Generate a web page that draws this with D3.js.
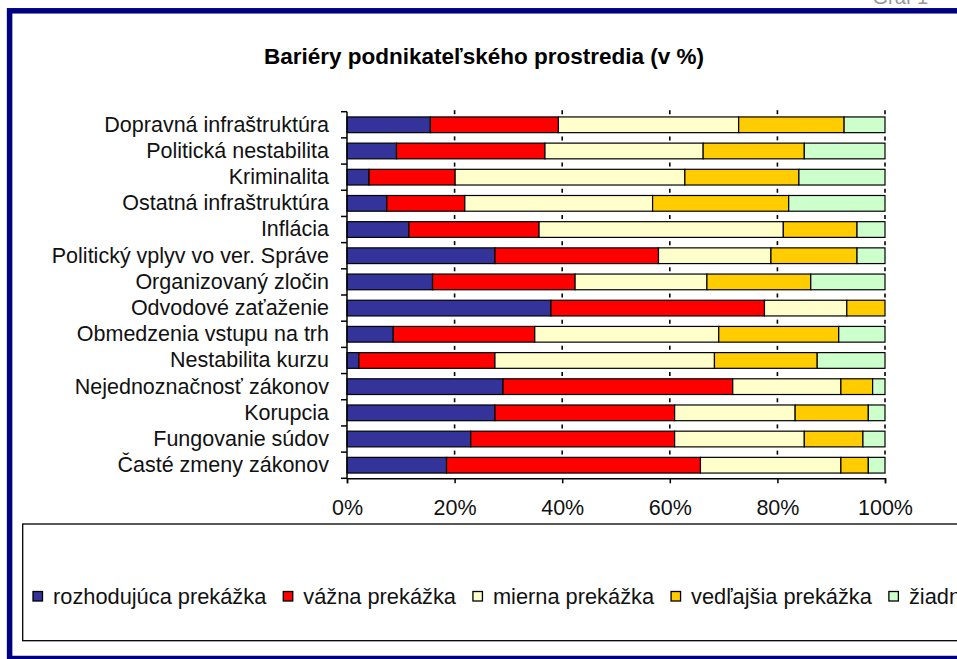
<!DOCTYPE html>
<html>
<head>
<meta charset="utf-8">
<script src="https://cdn.jsdelivr.net/npm/d3@7"></script>
<style>
    body { margin: 0; background: white; }
    svg { display: block; font-family: "Liberation Sans", Arial, sans-serif; }
</style>
</head>
<body>
<script>
// kategorie zhora nadol, hodnoty v %
var kategorie = ["Dopravná infraštruktúra", "Politická nestabilita", "Kriminalita", "Ostatná infraštruktúra",
    "Inflácia", "Politický vplyv vo ver. Správe", "Organizovaný zločin", "Odvodové zaťaženie",
    "Obmedzenia vstupu na trh", "Nestabilita kurzu", "Nejednoznačnosť zákonov", "Korupcia",
    "Fungovanie súdov", "Časté zmeny zákonov"];
var rozhodujuca = [15.5, 9.2, 4.1, 7.4, 11.5, 27.5, 15.9, 37.9, 8.6, 2.2, 29.0, 27.5, 23.0, 18.5];
var vazna = [23.8, 27.6, 16.0, 14.5, 24.2, 30.4, 26.5, 39.7, 26.3, 25.3, 42.7, 33.4, 37.9, 47.2];
var mierna = [33.5, 29.4, 42.7, 34.9, 45.4, 20.9, 24.5, 15.3, 34.2, 40.8, 20.1, 22.4, 24.1, 26.1];
var vedlajsia = [19.6, 18.8, 21.2, 25.3, 13.7, 16.0, 19.3, 7.1, 22.3, 19.1, 5.9, 13.6, 10.9, 5.1];
var ziadna = [7.6, 15.0, 16.0, 17.9, 5.2, 5.2, 13.8, 0, 8.6, 12.6, 2.3, 3.1, 4.1, 3.1];
var nazvySerii = ["rozhodujúca prekážka", "vážna prekážka", "mierna prekážka", "vedľajšia prekážka", "žiadna prekážka"];
var farby = ["#333399", "#FF0000", "#FFFFCC", "#FFCC00", "#CCFFCC"];
var tickyX = [0, 0.2, 0.4, 0.6, 0.8, 1];

var W = 957, H = 659;
var fontVelkost = 21.5;

function dibujar() {
    var svg = d3.select('body').append('svg').attr('width', W).attr('height', H);
    svg.append('rect').attr('width', W).attr('height', H).attr('fill', 'white');

    // text nad ramom (odrezany)
    svg.append('text').attr('x', 928).attr('y', 4).attr('text-anchor', 'end')
        .attr('fill', '#999').style('font-size', '20px').text('Graf 1');

    // modry ram
    svg.append('rect').attr('x', 9.6).attr('y', 10.8).attr('width', 1100).attr('height', 647.7)
        .attr('fill', 'none').attr('stroke', '#000080').attr('stroke-width', 5.5);

    svg.append('text').attr('x', 484).attr('y', 64).attr('text-anchor', 'middle')
        .style('font-size', '22.5px').style('font-weight', 'bold').text('Bariéry podnikateľského prostredia (v %)');

    var riadky = kategorie.map(function (k, i) {
        return { k: k, s0: rozhodujuca[i], s1: vazna[i], s2: mierna[i], s3: vedlajsia[i], s4: ziadna[i] };
    });
    var kluce = ["s0", "s1", "s2", "s3", "s4"];
    var stack = d3.stack().keys(kluce).offset(d3.stackOffsetExpand)(riadky);

    var x = d3.scaleLinear().domain([0, 1]).range([347, 885]);
    var y = d3.scaleBand().domain(kategorie).range([111.7, 478.3]).paddingInner(0.4).paddingOuter(0.2);
    var krok = y.step();

    // male znacky medzi pruhmi
    var znacky = svg.append('g');
    for (var i = 0; i < kategorie.length; i++) {
        var yb = 111.7 + i * krok;
        tickyX.slice(1).forEach(function (t) {
            znacky.append('line').attr('x1', x(t)).attr('x2', x(t)).attr('y1', yb - 1.5).attr('y2', yb + 2.5)
                .attr('stroke', 'black').attr('stroke-width', 1.6);
        });
    }

    svg.append('g').selectAll('g').data(stack).join('g')
        .attr('fill', function (d, i) { return farby[i]; })
        .selectAll('rect').data(function (d) { return d; }).join('rect')
        .attr('x', function (d) { return x(d[0]); })
        .attr('y', function (d) { return y(d.data.k); })
        .attr('width', function (d) { return x(d[1]) - x(d[0]); })
        .attr('height', y.bandwidth())
        .attr('stroke', 'black').attr('stroke-width', 1.2);

    // osi
    var osX = svg.append('g').attr('transform', 'translate(0,478.3)')
        .call(d3.axisBottom(x).tickValues(tickyX).tickFormat(d3.format('.0%')).tickSize(5).tickPadding(16));
    osX.select('.domain').attr('stroke', 'black').attr('stroke-width', 1.5);
    osX.selectAll('.tick line').attr('stroke-width', 1.5);
    osX.selectAll('text').style('font-size', fontVelkost + 'px').attr('fill', '#111').style('font-family', 'Liberation Sans, Arial, sans-serif');

    var osY = svg.append('g').attr('transform', 'translate(347,0)')
        .call(d3.axisLeft(y).tickSize(0).tickPadding(18));
    osY.select('.domain').attr('stroke', 'black').attr('stroke-width', 1.5).attr('d', 'M0,111.7V478.3');
    osY.selectAll('text').style('font-size', fontVelkost + 'px').attr('fill', '#111').style('font-family', 'Liberation Sans, Arial, sans-serif');
    for (var j = 0; j <= kategorie.length; j++) {
        osY.append('line').attr('x1', -6).attr('x2', 0).attr('y1', 111.7 + j * krok).attr('y2', 111.7 + j * krok)
            .attr('stroke', 'black').attr('stroke-width', 1.5);
    }

    // legenda
    svg.append('rect').attr('x', 22.7).attr('y', 524).attr('width', 1000).attr('height', 116.7)
        .attr('fill', 'white').attr('stroke', 'black').attr('stroke-width', 1.3);
    var lx = 33;
    nazvySerii.forEach(function (n, i) {
        svg.append('rect').attr('x', lx).attr('y', 591.5).attr('width', 9.5).attr('height', 9.5)
            .attr('fill', farby[i]).attr('stroke', 'black').attr('stroke-width', 1.3);
        var t = svg.append('text').attr('x', lx + 20).attr('y', 604)
            .style('font-size', '21.8px').attr('fill', '#111').text(n);
        lx = lx + 20 + t.node().getComputedTextLength() + 17;
    });
}
window.onload = function () {
    dibujar();
};
</script>
</body>
</html>
